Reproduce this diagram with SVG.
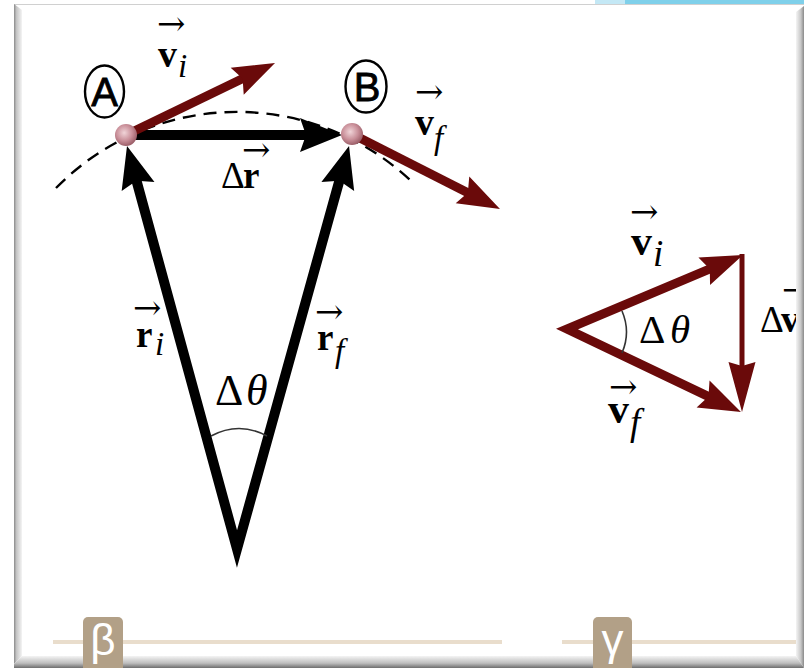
<svg xmlns="http://www.w3.org/2000/svg" width="804" height="668" viewBox="0 0 804 668">
<defs>
<style>
.lbl{font-family:"Liberation Serif","Times New Roman",serif;fill:#000}
.b{font-weight:bold}
.it{font-style:italic;font-weight:normal}
.vec{font-family:"DejaVu Serif","DejaVu Sans",serif;font-size:34px;font-weight:normal;font-style:normal}
.blk{stroke:#000;stroke-width:10;fill:none;stroke-linejoin:miter}
.red{stroke:#6a0a0a;stroke-width:9;fill:none;stroke-linejoin:miter}
.circ{fill:#fff;stroke:#000;stroke-width:2.4}
.cl{font-family:"Liberation Sans",Arial,sans-serif;font-size:40px;fill:#000;stroke:#000;stroke-width:0.8}
.ang{fill:none;stroke:#333;stroke-width:1.6}
.tab{fill:#b2a087}
.tabt{font-family:"Liberation Sans",Arial,sans-serif;font-size:44px;fill:#fff}
</style>
<marker id="hb" viewBox="-44 -18 46 36" refX="-30" refY="0" markerWidth="46" markerHeight="36" markerUnits="userSpaceOnUse" orient="auto-start-reverse">
<path d="M0,0 L-42,-17 L-36,0 L-42,17 Z" fill="#000"/>
</marker>
<marker id="hr" viewBox="-44 -16 46 32" refX="-30" refY="0" markerWidth="46" markerHeight="32" markerUnits="userSpaceOnUse" orient="auto-start-reverse">
<path d="M0,0 L-42,-15 L-36,0 L-42,15 Z" fill="#6a0a0a"/>
</marker>
<marker id="hv" viewBox="-52 -15 54 30" refX="-30" refY="0" markerWidth="54" markerHeight="30" markerUnits="userSpaceOnUse" orient="auto">
<path d="M0,0 L-50,-13.5 L-46,0 L-50,13.5 Z" fill="#6a0a0a"/>
</marker>
<radialGradient id="ball" cx="0.42" cy="0.4" r="0.6">
<stop offset="0" stop-color="#f0d4d8"/>
<stop offset="0.6" stop-color="#c98f99"/>
<stop offset="1" stop-color="#9c5f69"/>
</radialGradient>
<linearGradient id="gl" x1="0" y1="0" x2="1" y2="0">
<stop offset="0" stop-color="#8a8a8a"/>
<stop offset="0.3" stop-color="#c4c4c4"/>
<stop offset="1" stop-color="#f4f4f4"/>
</linearGradient>
<linearGradient id="gr" x1="0" y1="0" x2="1" y2="0">
<stop offset="0" stop-color="#f4f4f4"/>
<stop offset="0.6" stop-color="#c8c8c8"/>
<stop offset="1" stop-color="#8a8a8a"/>
</linearGradient>
<linearGradient id="gb" x1="0" y1="0" x2="0" y2="1">
<stop offset="0" stop-color="#f4f4f4"/>
<stop offset="0.6" stop-color="#bdbdbd"/>
<stop offset="1" stop-color="#6e6e6e"/>
</linearGradient>
</defs>

<rect width="804" height="668" fill="#fff"/>
<g id="frame">
<rect x="595" y="0" width="30" height="4" fill="#c4e8f5"/>
<rect x="625" y="0" width="179" height="4" fill="#7fd0ea"/>
<line x1="14" y1="4.5" x2="804" y2="4.5" stroke="#d0d0d0" stroke-width="1.2"/>
<polygon points="14,4 22,10 22,656 14,664" fill="url(#gl)"/>
</g>

<g id="bottom-bar">
<line x1="53" y1="642" x2="502" y2="642" stroke="#e9ddcc" stroke-width="4"/>
<line x1="562" y1="642" x2="804" y2="642" stroke="#e9ddcc" stroke-width="4"/>
</g>

<g id="connectors">
<path id="arc" d="M56,188 A253.6,253.6 0 0 1 410,180" fill="none" stroke="#000" stroke-width="2.4" stroke-dasharray="13 8"/>
<path id="r-vectors" class="blk" d="M134.9,174.9 L237,549 L341,174.9" marker-start="url(#hb)" marker-end="url(#hb)"/>
<line id="dr" class="blk" x1="126" y1="135" x2="312" y2="135" marker-end="url(#hb)"/>
<line id="vi" class="red" x1="126" y1="135" x2="248" y2="76" marker-end="url(#hr)"/>
<line id="vf" class="red" x1="352" y1="134" x2="473.2" y2="195.4" marker-end="url(#hr)"/>
<path id="tri-v" class="red" d="M715.3,266.6 L567,329 L713.9,399.1" marker-start="url(#hr)" marker-end="url(#hr)"/>
<line id="dv" x1="742" y1="254" x2="742" y2="382" stroke="#6a0a0a" stroke-width="5" marker-end="url(#hv)"/>
<path class="ang" d="M211,436 Q239,421 267,436"/>
<path class="ang" d="M622,311 Q631,332 622,353"/>
</g>

<g id="pointA">
<circle cx="126" cy="135" r="11" fill="url(#ball)"/>
</g>
<g id="pointB">
<circle cx="352" cy="134" r="11" fill="url(#ball)"/>
</g>
<g id="labelA">
<ellipse class="circ" cx="104.5" cy="91.5" rx="19.5" ry="26"/>
<text class="cl" x="104.5" y="106" text-anchor="middle">A</text>
</g>
<g id="labelB">
<ellipse class="circ" cx="366" cy="86.5" rx="20.5" ry="26"/>
<text class="cl" x="367" y="101" text-anchor="middle">B</text>
</g>

<g id="lbl-vi">
<text class="lbl"><tspan class="vec" x="157" y="35">→</tspan><tspan class="b" x="158" y="67" font-size="38">v</tspan><tspan class="it" x="178" y="77" font-size="33">i</tspan></text>
</g>
<g id="lbl-vf">
<text class="lbl"><tspan class="vec" x="415" y="103">→</tspan><tspan class="b" x="415" y="135" font-size="38">v</tspan><tspan class="it" x="434" y="149" font-size="33">f</tspan></text>
</g>
<g id="lbl-dr">
<text class="lbl"><tspan class="vec" x="242" y="161">→</tspan><tspan x="221" y="188" font-size="37">Δ</tspan><tspan class="b" x="243" y="188" font-size="37">r</tspan></text>
</g>
<g id="lbl-ri">
<text class="lbl"><tspan class="vec" x="133" y="319">→</tspan><tspan class="b" x="136" y="347" font-size="37">r</tspan><tspan class="it" x="155" y="355" font-size="33">i</tspan></text>
</g>
<g id="lbl-rf">
<text class="lbl"><tspan class="vec" x="315" y="323">→</tspan><tspan class="b" x="317" y="350" font-size="37">r</tspan><tspan class="it" x="335" y="362" font-size="33">f</tspan></text>
</g>
<g id="lbl-dtheta-left">
<text class="lbl"><tspan x="215" y="405" font-size="44">Δ</tspan><tspan class="it" x="246" y="405" font-size="44">θ</tspan></text>
</g>
<g id="lbl-vi-right">
<text class="lbl"><tspan class="vec" x="630" y="223">→</tspan><tspan class="b" x="631" y="255" font-size="42">v</tspan><tspan class="it" x="653" y="266" font-size="37">i</tspan></text>
</g>
<g id="lbl-dtheta-right">
<text class="lbl"><tspan x="639" y="343" font-size="41">Δ</tspan><tspan class="it" x="670" y="343" font-size="41">θ</tspan></text>
</g>
<g id="lbl-vf-right">
<text class="lbl"><tspan class="vec" x="609" y="398">→</tspan><tspan class="b" x="608" y="423" font-size="42">v</tspan><tspan class="it" x="630" y="435" font-size="37">f</tspan></text>
</g>
<g id="lbl-dv">
<text class="lbl"><tspan class="vec" x="782" y="301">→</tspan><tspan x="760" y="332" font-size="37">Δ</tspan><tspan class="b" x="781" y="332" font-size="37">v</tspan></text>
</g>

<g id="frame-edges">
<polygon points="796,12 804,6 804,668 796,656" fill="url(#gr)"/>
<polygon points="14,664 22,656 796,656 804,668 14,668" fill="url(#gb)"/>
</g>

<g id="tab-beta">
<rect class="tab" x="83" y="617" width="40" height="60" rx="5"/>
<text class="tabt" x="103" y="655" text-anchor="middle">β</text>
</g>
<g id="tab-gamma">
<rect class="tab" x="593" y="617" width="39" height="60" rx="5"/>
<text class="tabt" x="612.5" y="655" text-anchor="middle">γ</text>
</g>
</svg>
